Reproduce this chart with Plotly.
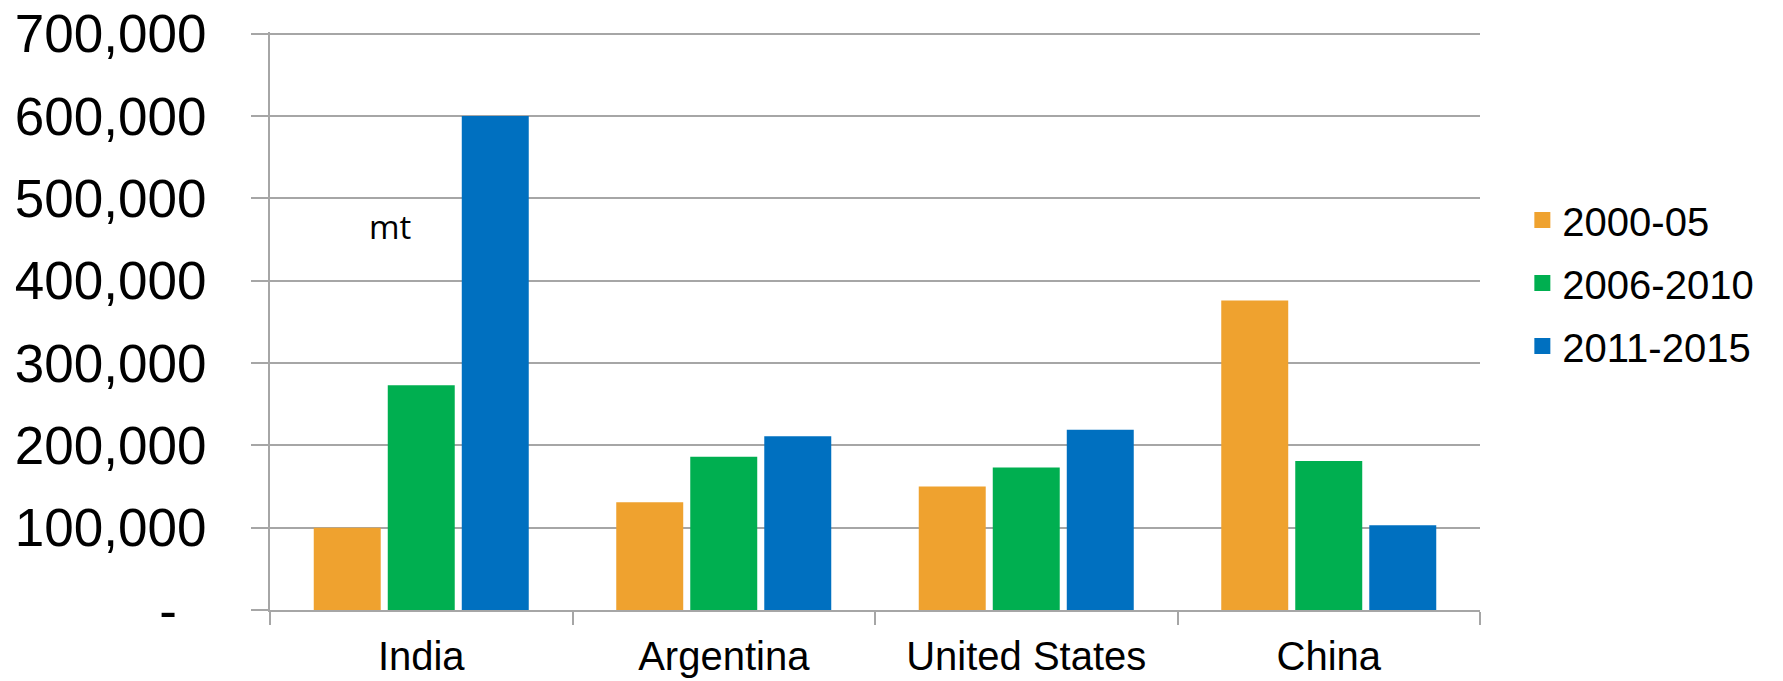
import plotly.graph_objects as go

categories = ["India", "Argentina", "United States", "China"]
series_names = ["2000-05", "2006-2010", "2011-2015"]
v_2000_05 = [100000, 131000, 150000, 376000]
v_2006_2010 = [273000, 186000, 173000, 181000]
v_2011_2015 = [600000, 211000, 219000, 103000]
colors = ["#EFA22F", "#00AF50", "#0070C0"]
y_tickvals = [0, 100000, 200000, 300000, 400000, 500000, 600000, 700000]
y_ticktext = ["-\u00a0\u00a0", "100,000", "200,000", "300,000", "400,000",
              "500,000", "600,000", "700,000"]

series_values = [v_2000_05, v_2006_2010, v_2011_2015]

fig = go.Figure()
for name, vals, col in zip(series_names, series_values, colors):
    fig.add_trace(go.Bar(x=categories, y=vals, name=name, marker_color=col,
                         marker_line_width=0, showlegend=False))
# legend entries with larger square swatches
for i, (name, col) in enumerate(zip(series_names, colors)):
    fig.add_trace(go.Scatter(x=[None], y=[None], mode="markers", name=name,
                             marker=dict(symbol="square", size=21, color=col),
                             legendgroup=f"g{i}", showlegend=True))

fig.update_layout(
    width=1783, height=681,
    margin=dict(l=270, r=303, t=32, b=71),
    paper_bgcolor="white", plot_bgcolor="white",
    barmode="group", bargap=0.266, bargroupgap=0.095,
    font=dict(family="Liberation Sans, Arial, sans-serif", color="black"),
    legend=dict(x=1.035, xanchor="left", y=0.731, yanchor="top",
                font=dict(size=40, color="black"), tracegroupgap=8,
                itemwidth=30, bgcolor="rgba(0,0,0,0)"),
    annotations=[dict(text="mt", x=0.0992, y=0.663, xref="paper", yref="paper",
                      showarrow=False, xanchor="center", yanchor="middle",
                      font=dict(family="Open Sans", size=33, color="black"))],
)
fig.update_xaxes(
    automargin=False,
    showline=True, linecolor="#A6A6A6", linewidth=2,
    ticks="outside", ticklen=13, tickcolor="#A6A6A6", tickwidth=2,
    tickson="boundaries", showgrid=False,
    tickfont=dict(size=40, color="black"), ticklabelstandoff=10,
)
fig.update_yaxes(
    automargin=False,
    range=[0, 702000], tickvals=y_tickvals, ticktext=y_ticktext,
    showline=True, linecolor="#A6A6A6", linewidth=2,
    ticks="outside", ticklen=17, tickcolor="#A6A6A6", tickwidth=2,
    showgrid=True, gridcolor="#A6A6A6", gridwidth=2, zeroline=False,
    tickfont=dict(size=53, color="black"), ticklabelstandoff=34,
)
fig.write_html("out.html")
